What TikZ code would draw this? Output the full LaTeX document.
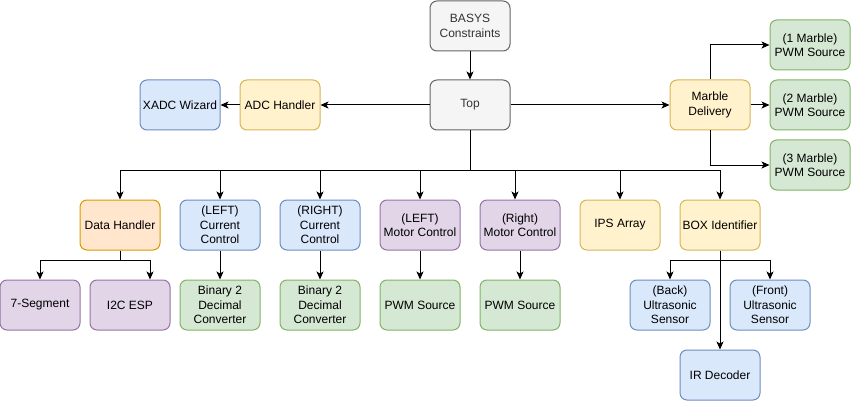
\documentclass[tikz,border=0pt]{standalone}
\usepackage{fontspec}
\setmainfont{Liberation Sans}
\usetikzlibrary{arrows.meta}
\definecolor{grayfill}{HTML}{F5F5F5}\definecolor{grayline}{HTML}{666666}
\definecolor{bluefill}{HTML}{DAE8FC}\definecolor{blueline}{HTML}{6C8EBF}
\definecolor{yelfill}{HTML}{FFF2CC}\definecolor{yelline}{HTML}{D6B656}
\definecolor{orafill}{HTML}{FFE6CC}\definecolor{oraline}{HTML}{D79B00}
\definecolor{purfill}{HTML}{E1D5E7}\definecolor{purline}{HTML}{9673A6}
\definecolor{grefill}{HTML}{D5E8D4}\definecolor{greline}{HTML}{82B366}
\definecolor{graytext}{HTML}{333333}
\tikzset{
  block/.style={draw,rounded corners=7pt,minimum width=80pt,minimum height=50pt,
    inner sep=1pt,align=center,line width=1pt,font=\fontsize{12}{14.5}\selectfont},
  graybox/.style={block,fill=grayfill,draw=grayline,text=graytext},
  bluebox/.style={block,fill=bluefill,draw=blueline},
  yelbox/.style={block,fill=yelfill,draw=yelline},
  orabox/.style={block,fill=orafill,draw=oraline},
  purbox/.style={block,fill=purfill,draw=purline},
  grebox/.style={block,fill=grefill,draw=greline},
  link/.style={line width=1pt,-{Stealth[length=8pt,width=7pt,inset=2pt]}}
}
\begin{document}
\begin{tikzpicture}[x=1pt,y=-1pt]
\useasboundingbox (0,0) rectangle (851,401);
% Top level
\node[graybox] (basys) at (470,26) {BASYS\\Constraints};
\node[graybox] (top) at (470,105) {Top};
\node[yelbox] (adc) at (280,105) {ADC Handler};
\node[bluebox] (xadc) at (180,105) {XADC Wizard};
\node[yelbox] (marble) at (710,105) {Marble\\Delivery};
\node[grebox] (pwmA) at (810,45) {(1 Marble)\\PWM Source};
\node[grebox] (pwmB) at (810,105) {(2 Marble)\\PWM Source};
\node[grebox] (pwmC) at (810,165) {(3 Marble)\\PWM Source};
% Second row
\node[orabox] (data) at (120,225) {Data Handler};
\node[bluebox] (lcur) at (220,225) {(LEFT)\\Current\\Control};
\node[bluebox] (rcur) at (320,225) {(RIGHT)\\Current\\Control};
\node[purbox] (lmot) at (420,225) {(LEFT)\\Motor Control};
\node[purbox] (rmot) at (520,225) {(Right)\\Motor Control};
\node[yelbox] (ips) at (620,225) {IPS Array};
\node[yelbox] (box) at (720,225) {BOX Identifier};
% Third row
\node[purbox] (seg) at (40,305) {7-Segment};
\node[purbox] (i2c) at (130,305) {I2C ESP};
\node[grebox] (lbin) at (220,305) {Binary 2\\Decimal\\Converter};
\node[grebox] (rbin) at (320,305) {Binary 2\\Decimal\\Converter};
\node[grebox] (lpwm) at (420,305) {PWM Source};
\node[grebox] (rpwm) at (520,305) {PWM Source};
\node[bluebox] (back) at (670,305) {(Back)\\Ultrasonic\\Sensor};
\node[bluebox] (front) at (770,305) {(Front)\\Ultrasonic\\Sensor};
\node[bluebox] (ir) at (720,375) {IR Decoder};
% Connections
\coordinate (bus) at (470,170);
\draw[link] (basys) -- (top);
\draw[link] (top) -- (adc);
\draw[link] (adc) -- (xadc);
\draw[link] (top) -- (marble);
\draw[link] (marble.north) |- (pwmA.west);
\draw[link] (marble) -- (pwmB);
\draw[link] (marble.south) |- ([yshift=0pt]pwmC.west);
\foreach \n in {data,lcur,rcur,lmot,ips,box}
  \draw[link] (top.south) -- (bus) -| (\n.north);
\draw[link] (top.south) -- (bus) -| ([xshift=-5pt]rmot.north);
\draw[link] (data.south) -- ++(0,10) -| (seg.north);
\draw[link] (data.south) -- ++(0,10) -| ([xshift=20pt]i2c.north);
\draw[link] (lcur) -- (lbin);
\draw[link] (rcur) -- (rbin);
\draw[link] (lmot) -- (lpwm);
\draw[link] (rmot) -- (rpwm);
\draw[link] (box.south) -- ++(0,10) -| (back.north);
\draw[link] (box.south) -- ++(0,10) -| (front.north);
\draw[link] (box) -- (ir);
\end{tikzpicture}
\end{document}
